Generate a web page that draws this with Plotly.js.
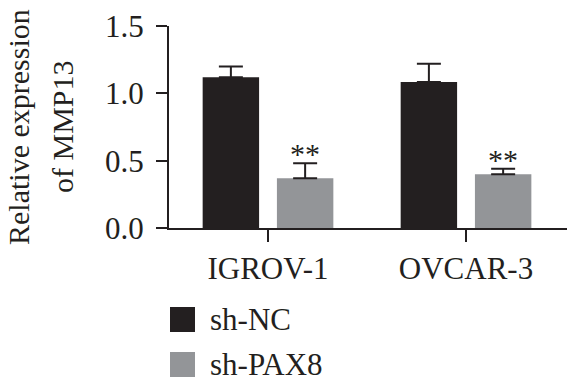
<!DOCTYPE html>
<html><head><meta charset="utf-8">
<script src="https://cdn.plot.ly/plotly-3.0.1.min.js"></script>
<style>html,body{margin:0;padding:0;background:#fff;}#chart{width:567px;height:384px;}</style>
</head><body><div id="chart"></div>
<script>
var categories = ['IGROV-1', 'OVCAR-3'];
var seriesNames = ['sh-NC', 'sh-PAX8'];
var ncValues = [1.12, 1.085];
var ncErrors = [0.08, 0.135];
var paxValues = [0.37, 0.40];
var paxErrors = [0.11, 0.04];
var significance = ['**', '**'];
var yTicks = [0, 0.5, 1.0, 1.5];
var yTickLabels = ['0.0', '0.5', '1.0', '1.5'];

var W = 567, H = 384;
var M = {l: 169, r: 0, t: 26, b: 156};
var pw = W - M.l - M.r, ph = H - M.t - M.b;
function px2paperX(p) { return (p - M.l) / pw; }
function px2paperY(p) { return (H - M.b - p) / ph; }

var ink = '#231f20';
var colors = ['#231f20', '#939598'];
var FONT = '"Liberation Serif", "Times New Roman", Times, serif';

var traces = [
  {type: 'bar', x: categories, y: ncValues, name: seriesNames[0],
   marker: {color: colors[0], line: {width: 0}},
   error_y: {type: 'data', array: ncErrors, arrayminus: ncErrors.map(function(){return 0;}), symmetric: false,
             color: ink, thickness: 2, width: 12}},
  {type: 'bar', x: categories, y: paxValues, name: seriesNames[1],
   marker: {color: colors[1], line: {width: 0}},
   error_y: {type: 'data', array: paxErrors, arrayminus: paxErrors.map(function(){return 0;}), symmetric: false,
             color: ink, thickness: 2, width: 12}}
];

var annotations = [];
var bargap = 0.25;
var offsetPx = (1 - bargap) / 4 * (pw / 2.01);
for (var i = 0; i < categories.length; i++) {
  annotations.push({x: categories[i], y: paxValues[i] + paxErrors[i], xref: 'x', yref: 'y',
    text: significance[i], showarrow: false, xshift: offsetPx, yanchor: 'bottom', yshift: -9,
    font: {family: FONT, size: 30, color: ink}});
}
annotations.push({x: px2paperX(18), y: 0.5, xref: 'paper', yref: 'paper', text: 'Relative expression',
  textangle: -90, showarrow: false, xanchor: 'center', yanchor: 'middle', font: {family: FONT, size: 30, color: ink}});
annotations.push({x: px2paperX(62), y: 0.5, xref: 'paper', yref: 'paper', text: 'of MMP13',
  textangle: -90, showarrow: false, xanchor: 'center', yanchor: 'middle', font: {family: FONT, size: 30, color: ink}});

var shapes = [];
var legendRows = [319.5, 364.5];
for (var k = 0; k < seriesNames.length; k++) {
  shapes.push({type: 'rect', xref: 'paper', yref: 'paper',
    x0: px2paperX(170), x1: px2paperX(195), y0: px2paperY(legendRows[k] - 12.5), y1: px2paperY(legendRows[k] + 12.5),
    fillcolor: colors[k], line: {width: 0}});
  annotations.push({x: px2paperX(208), y: px2paperY(legendRows[k]), xref: 'paper', yref: 'paper',
    text: seriesNames[k], showarrow: false, xanchor: 'left', yanchor: 'middle',
    font: {family: FONT, size: 31, color: ink}});
}

var layout = {
  width: W, height: H,
  margin: M,
  paper_bgcolor: '#fff', plot_bgcolor: '#fff',
  showlegend: false,
  barmode: 'group', bargap: bargap, bargroupgap: 0.24,
  font: {family: FONT, size: 30, color: ink},
  xaxis: {type: 'category', range: [-0.5, 1.51], showline: true, linecolor: ink, linewidth: 2,
    ticks: 'outside', ticklen: 12, tickwidth: 2, tickcolor: ink, showgrid: false, zeroline: false,
    tickfont: {family: FONT, size: 31, color: ink}},
  yaxis: {range: [0, 1.5], tickvals: yTicks, ticktext: yTickLabels, showline: true, linecolor: ink, linewidth: 2,
    ticks: 'outside', ticklen: 11, tickwidth: 2, tickcolor: ink, showgrid: false, zeroline: false,
    ticklabelstandoff: 6,
    tickfont: {family: FONT, size: 31, color: ink}},
  shapes: shapes,
  annotations: annotations
};

Plotly.newPlot('chart', traces, layout, {staticPlot: true, displayModeBar: false});
</script></body></html>
